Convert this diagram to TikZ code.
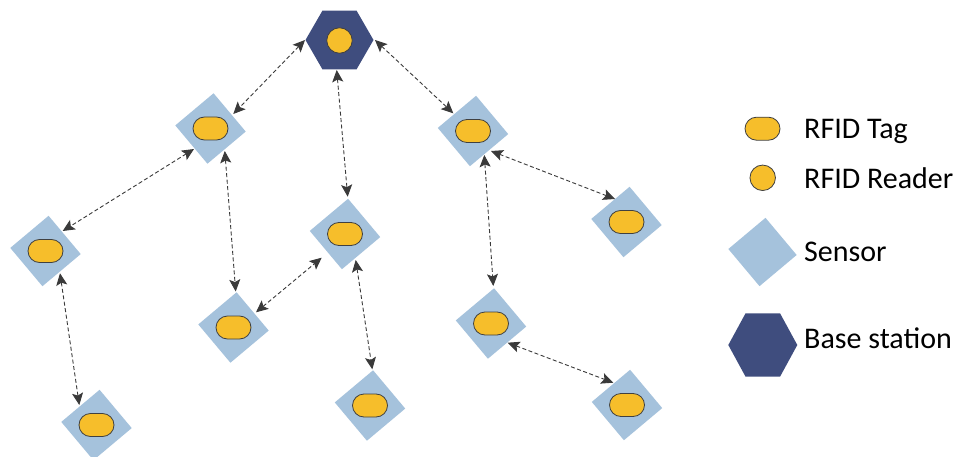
\documentclass[tikz,border=0pt]{standalone}
\usepackage{fontspec}
\setmainfont{Carlito}
\usetikzlibrary{shapes.geometric,arrows.meta,calc}
\definecolor{sensorblue}{HTML}{A5C2DC}
\definecolor{tagyellow}{HTML}{F6BE2B}
\definecolor{navy}{HTML}{3F4D7E}
\definecolor{arrowgray}{HTML}{3A3A3A}
\definecolor{outlinegray}{HTML}{404040}
\tikzset{
  sensorbox/.style={rectangle, fill=sensorblue, draw=none, minimum size=50pt, inner sep=0pt, outer sep=0pt, rotate=40},
  tagpill/.style={rectangle, rounded corners=11.5pt, fill=tagyellow, draw=outlinegray, line width=0.8pt, minimum width=35pt, minimum height=23pt, inner sep=0pt},
  readerdot/.style={circle, fill=tagyellow, draw=outlinegray, line width=0.8pt, minimum size=25.5pt, inner sep=0pt},
  basehex/.style={regular polygon, regular polygon sides=6, fill=navy, draw=none, minimum size=68pt, inner sep=0pt, outer sep=0pt},
  conn/.style={draw=arrowgray, line width=0.9pt, dash pattern=on 4pt off 2.5pt,
    {Stealth[length=12pt,width=11pt,inset=2.5pt]}-{Stealth[length=12pt,width=11pt,inset=2.5pt]}},
  legendtext/.style={anchor=base west, inner sep=0pt, font=\fontsize{30}{36}\selectfont, text=black}
}
\begin{document}
\begin{tikzpicture}[x=1pt,y=-1pt]
\path[use as bounding box, fill=white] (0,0) rectangle (958,457);

% base station
\node[basehex] (B) at (339.5,40) {};
\node[readerdot] (r0) at (339.5,40.5) {};

% sensors
\node[sensorbox] (s1) at (210.5,128.5) {};
\node[sensorbox] (s2) at (45.5,251) {};
\node[sensorbox] (s3) at (96.5,425) {};
\node[sensorbox] (s4) at (233.5,327.5) {};
\node[sensorbox] (s5) at (345,234) {};
\node[sensorbox] (s6) at (370,405.5) {};
\node[sensorbox] (s7) at (473,131) {};
\node[sensorbox] (s8) at (491,323.5) {};
\node[sensorbox] (s9) at (626.5,222) {};
\node[sensorbox] (s10) at (627,405) {};

% tags
\foreach \s in {s1,s2,s3,s4,s5,s6,s7,s8,s9,s10}
  \node[tagpill] (t\s) at (\s) {};

% connectors
\draw[conn] ($(B)+(-34.5,0)$) -- ($(s1)+(22.8,-14.5)$);
\draw[conn] ($(B)+(35.5,0)$) -- ($(s7)+(-19.7,-17.7)$);
\draw[conn] ($(B)+(-2.8,30)$) -- ($(s5)+(2.7,-37.3)$);
\draw[conn] ($(s1)+(-16.5,20.5)$) -- ($(s2)+(17.2,-20)$);
\draw[conn] ($(s1)+(14.3,22.5)$) -- ($(s4)+(2.2,-36)$);
\draw[conn] ($(s4)+(22.5,-15.2)$) -- ($(s5)+(-23.3,23.7)$);
\draw[conn] ($(s5)+(10.7,26)$) -- ($(s6)+(2.3,-36.2)$);
\draw[conn] ($(s2)+(14.5,22.3)$) -- ($(s3)+(-17.2,-20)$);
\draw[conn] ($(s7)+(18,20)$) -- ($(s9)+(-11.5,-23)$);
\draw[conn] ($(s7)+(11.3,24)$) -- ($(s8)+(2.3,-37.5)$);
\draw[conn] ($(s8)+(16.7,19.2)$) -- ($(s10)+(-13.7,-22.3)$);

% legend
\node[tagpill] (lt) at (762.5,128.7) {};
\node[readerdot] (lr) at (762.7,177.8) {};
\node[sensorbox, minimum size=48.5pt] (ls) at (762.5,252) {};
\node[basehex, minimum size=69pt, yscale=1.06] (lb) at (762.8,345) {};

\node[legendtext] (ltt) at (804,139) {RFID Tag};
\node[legendtext] (lrt) at (804,189) {RFID Reader};
\node[legendtext] (lst) at (804,261.7) {Sensor};
\node[legendtext] (lbt) at (804,348.3) {Base station};
\end{tikzpicture}
\end{document}
